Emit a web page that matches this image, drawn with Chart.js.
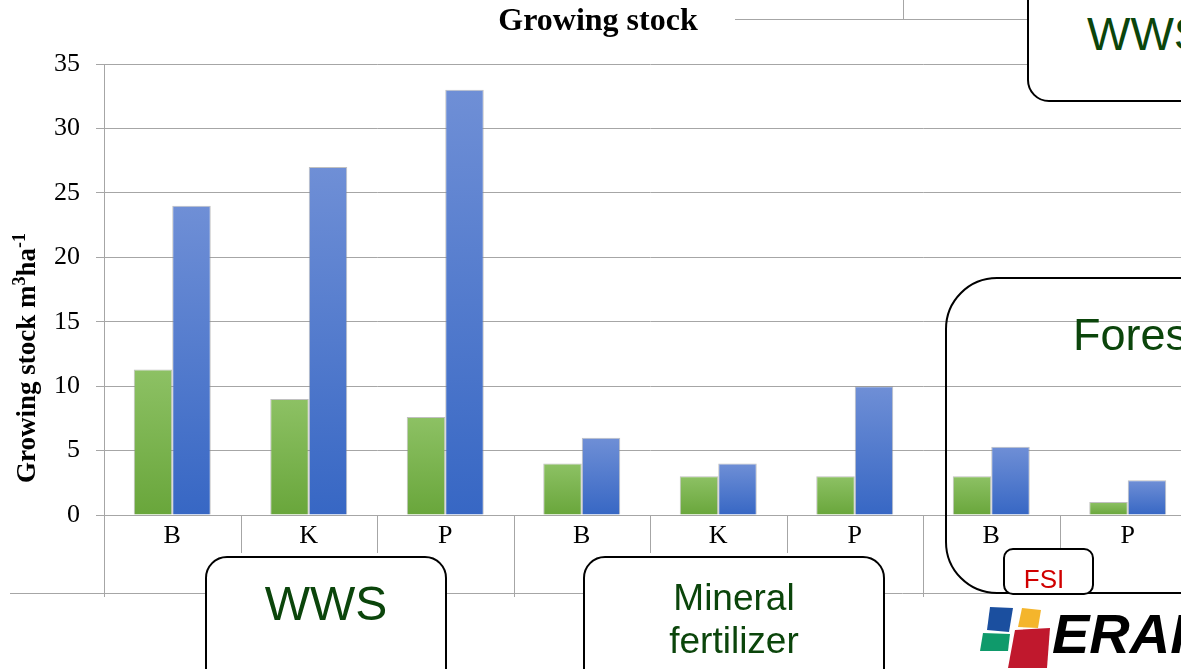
<!DOCTYPE html>
<html>
<head>
<meta charset="utf-8">
<script src="https://cdn.jsdelivr.net/npm/chart.js@4/dist/chart.umd.min.js"></script>
<style>
  html, body { margin: 0; padding: 0; background: #fff; overflow: hidden; width: 1181px; height: 669px; }
  #wrap { position: absolute; left: 0; top: 0; width: 1200px; height: 669px; }
  .box { position: absolute; border: 2px solid #000; box-sizing: border-box; }
  .txt { position: absolute; font-family: "Liberation Sans", Arial, sans-serif; color: #0b450b; white-space: nowrap; line-height: 1; }
  .rule { position: absolute; background: #a6a6a6; }
</style>
</head>
<body>
<div id="wrap"><canvas id="c" width="1200" height="669"></canvas></div>

<!-- connector lines above the plot -->
<div class="rule" style="left:735px;top:19px;width:300px;height:1px;"></div>
<div class="rule" style="left:903px;top:0;width:1px;height:20px;"></div>

<!-- treatment boxes -->
<div class="box" style="left:1027px;top:-40px;width:220px;height:142px;border-radius:22px;background:#fff;"></div>
<div class="txt" style="left:1087px;top:11px;font-size:46px;">WWS</div>

<div class="box" style="left:945px;top:277px;width:300px;height:317px;border-radius:52px;"></div>
<div class="txt" style="left:1073px;top:312px;font-size:45px;">Forest</div>

<div class="box" style="left:205px;top:556px;width:242px;height:150px;border-radius:22px;background:#fff;"></div>
<div class="txt" style="left:205px;top:580px;width:242px;text-align:center;font-size:48px;">WWS</div>

<div class="box" style="left:583px;top:556px;width:302px;height:150px;border-radius:22px;background:#fff;"></div>
<div class="txt" style="left:583px;top:576px;width:302px;text-align:center;font-size:37px;line-height:43px;white-space:normal;">Mineral<br>fertilizer</div>

<div class="box" style="left:1003px;top:548px;width:91px;height:47px;border-radius:10px;background:#fff;"></div>
<div class="txt" style="left:1000px;top:566px;width:88px;text-align:center;font-size:26px;color:#d00000;">FSI</div>

<!-- logo -->
<svg style="position:absolute;left:0;top:0;" width="1181" height="669">
  <polygon points="990,607 1013,608 1009,632 987,630" fill="#1b4f9f"/>
  <polygon points="1022,608 1041,610 1038,628 1018,627" fill="#f4b52c"/>
  <polygon points="983,633 1010,634 1008,651 980,651" fill="#0f9a6b"/>
  <polygon points="1015,630 1050,628 1047,668 1008,668" fill="#c0182d"/>
</svg>
<div class="txt" style="left:1052px;top:606px;font-size:56px;font-weight:bold;font-style:italic;color:#000;">ERAF</div>

<script>
// Growing stock (m3/ha) by species, grouped by treatment
const categories = ['B', 'K', 'P', 'B', 'K', 'P', 'B', 'P'];
const groups = [
  { name: 'WWS', size: 3 },
  { name: 'Mineral fertilizer', size: 3 },
  { name: 'FSI', size: 2 }
];
const seriesA = [11.3, 9.0, 7.6, 4.0, 3.0, 3.0, 3.0, 1.0];
const seriesB = [24.0, 27.0, 33.0, 6.0, 4.0, 10.0, 5.3, 2.7];
const yTicks = [0, 5, 10, 15, 20, 25, 30, 35];

const SERIF = '"Liberation Serif", "Times New Roman", serif';
const GRID = '#a6a6a6';

// vertical gradient per bar, lighter at the top
function barFill(top, bottom) {
  return (ctx) => {
    const chart = ctx.chart;
    const y = chart.scales && chart.scales.y;
    if (!y || ctx.raw == null) return bottom;
    const y0 = y.getPixelForValue(0);
    const y1 = y.getPixelForValue(ctx.raw);
    if (!isFinite(y0) || !isFinite(y1) || y0 === y1) return bottom;
    const g = chart.ctx.createLinearGradient(0, y1, 0, y0);
    g.addColorStop(0, top);
    g.addColorStop(1, bottom);
    return g;
  };
}

// category / group separators below the axis and the rotated axis title
const frame = {
  id: 'frame',
  afterDraw(chart) {
    const { ctx, scales: { x, y } } = chart;
    const base = y.getPixelForValue(0);
    const n = categories.length;
    const step = x.getPixelForTick(1) - x.getPixelForTick(0);
    const edges = new Set([0]);
    let acc = 0;
    groups.forEach(g => { acc += g.size; edges.add(acc); });

    ctx.save();
    ctx.strokeStyle = GRID;
    ctx.lineWidth = 1;
    for (let i = 0; i <= n; i++) {
      const px = Math.round(x.getPixelForTick(0) - step / 2 + i * step) + 0.5;
      const bottom = edges.has(i) ? base + 82 : base + 38;
      ctx.beginPath();
      ctx.moveTo(px, base);
      ctx.lineTo(px, bottom);
      ctx.stroke();
    }
    const ly = Math.round(base + 78) + 0.5;
    ctx.beginPath();
    ctx.moveTo(10, ly);
    ctx.lineTo(chart.width, ly);
    ctx.stroke();
    ctx.restore();

    // y-axis title with superscripts
    const parts = [
      ['Growing stock m', false], ['3', true], ['ha', false], ['-1', true]
    ];
    const size = 27;
    const normal = 'bold ' + size + 'px ' + SERIF;
    const small = 'bold ' + Math.round(size * 0.65) + 'px ' + SERIF;
    ctx.save();
    let total = 0;
    parts.forEach(([t, sup]) => { ctx.font = sup ? small : normal; total += ctx.measureText(t).width; });
    ctx.translate(35, 358);
    ctx.rotate(-Math.PI / 2);
    ctx.fillStyle = '#000';
    ctx.textBaseline = 'alphabetic';
    let cx = -total / 2;
    parts.forEach(([t, sup]) => {
      ctx.font = sup ? small : normal;
      ctx.fillText(t, cx, sup ? -size * 0.38 : 0);
      cx += ctx.measureText(t).width;
    });
    ctx.restore();
  }
};

new Chart(document.getElementById('c'), {
  type: 'bar',
  data: {
    labels: categories,
    datasets: [
      { data: seriesA, backgroundColor: barFill('#8dc164', '#69a63b'), borderColor: 'rgba(140,140,140,0.55)', borderWidth: 1 },
      { data: seriesB, backgroundColor: barFill('#6f8fd6', '#3767c4'), borderColor: 'rgba(140,140,140,0.55)', borderWidth: 1 }
    ]
  },
  options: {
    responsive: false,
    animation: false,
    devicePixelRatio: 1,
    layout: { padding: { left: 0, right: 4, top: 0, bottom: 0 } },
    datasets: { bar: { barPercentage: 1, categoryPercentage: 0.564 } },
    plugins: {
      legend: { display: false },
      tooltip: { enabled: false },
      title: {
        display: true,
        text: 'Growing stock',
        color: '#000',
        font: { family: SERIF, size: 32, weight: 'bold' },
        padding: { top: 3, bottom: 22.6 }
      }
    },
    scales: {
      x: {
        grid: { display: false, drawTicks: false },
        border: { display: false },
        ticks: { color: '#000', font: { family: SERIF, size: 26 }, padding: 6, maxRotation: 0, autoSkip: false },
        afterFit(s) { s.height = 154; }
      },
      y: {
        min: 0,
        max: 35,
        afterBuildTicks(s) { s.ticks = yTicks.map(v => ({ value: v })); },
        ticks: { color: '#000', font: { family: SERIF, size: 26 }, padding: 16 },
        grid: { color: GRID, tickLength: 8 },
        border: { color: GRID },
        afterFit(s) { s.width = 104; }
      }
    }
  },
  plugins: [frame]
});
</script>
</body>
</html>
